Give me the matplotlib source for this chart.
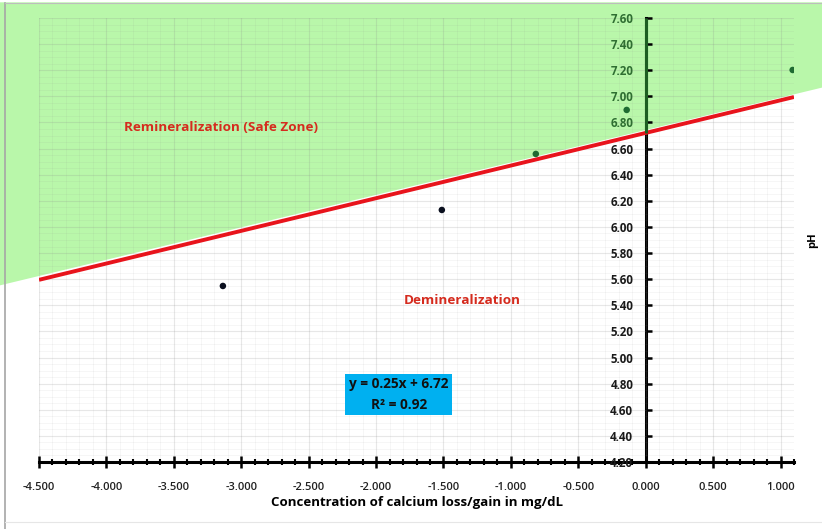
import matplotlib
matplotlib.use("Agg")
import matplotlib.pyplot as plt
from matplotlib.ticker import MultipleLocator, FormatStrFormatter
import numpy as np

# ---- data ----
calcium_change = [-3.136, -1.512, -0.815, -0.141, 1.090]
ph_values = [5.548, 6.130, 6.559, 6.896, 7.202]
slope = 0.25
intercept = 6.72
r_squared = 0.92
x_ticks = [-4.5, -4.0, -3.5, -3.0, -2.5, -2.0, -1.5, -1.0, -0.5, 0.0, 0.5, 1.0]
y_ticks = [4.2, 4.4, 4.6, 4.8, 5.0, 5.2, 5.4, 5.6, 5.8, 6.0, 6.2, 6.4, 6.6, 6.8, 7.0, 7.2, 7.4, 7.6]

FONT = "Open Sans"
GREEN_TXT = "#2f6e32"
RED = "#e8141c"
RED_TXT = "#d52b1e"
FILL = "#b9f7aa"

fig = plt.figure(figsize=(8.22, 5.29), dpi=100)
fig.patch.set_facecolor("white")
ax = fig.add_axes([39/822, 1-462/529, (794-39)/822, (462-18)/529])
xmin, xmax, ymin, ymax = -4.5, 1.1, 4.2, 7.6
ax.set_xlim(xmin, xmax)
ax.set_ylim(ymin, ymax)

# green safe zone polygon (extends beyond axes, to figure edges)
fx0, fx1, ftop = -4.79, 1.31, 7.72
poly_x = [fx0, fx1, fx1, fx0]
poly_y = [slope*fx0 + intercept + 0.03, slope*fx1 + intercept + 0.02, ftop, ftop]
ax.fill(poly_x, poly_y, color=FILL, zorder=0.5, clip_on=False, lw=0)

# grid
ax.xaxis.set_major_locator(MultipleLocator(0.5))
ax.xaxis.set_minor_locator(MultipleLocator(0.1))
ax.set_yticks(y_ticks)
ax.yaxis.set_minor_locator(MultipleLocator(0.05))
ax.grid(which="major", color="#8a8a8a", alpha=0.2, lw=0.8, zorder=1)
ax.grid(which="minor", color="#8a8a8a", alpha=0.09, lw=0.6, zorder=1)
ax.set_axisbelow(False)

# trend line
tx = np.array([xmin, xmax])
ax.plot(tx, slope*tx + intercept, color=RED, lw=2.8, zorder=4, solid_capstyle="butt")

# points
cols = ["#0a0f1e" if y < slope*x + intercept else "#1f6b32" for x, y in zip(calcium_change, ph_values)]
ax.scatter(calcium_change, ph_values, s=22, c=cols, zorder=5, lw=0)

# spines
for s in ["top", "right"]:
    ax.spines[s].set_visible(False)
ax.spines["left"].set_position(("data", 0))
ax.spines["left"].set_linewidth(2.2)
ax.spines["bottom"].set_linewidth(2.2)
ax.plot([0, 0], [intercept, ymax], color="#1d5e22", lw=2.2, zorder=6, clip_on=False, solid_capstyle="butt")

ax.set_xticks(x_ticks)
ax.xaxis.set_major_formatter(FormatStrFormatter("%.3f"))
ax.yaxis.set_major_formatter(FormatStrFormatter("%.2f"))
ax.tick_params(axis="x", which="major", direction="inout", length=9, width=1.8, pad=10,
               labelsize=8, colors="black")
ax.tick_params(axis="x", which="minor", direction="inout", length=4, width=1.5)
ax.tick_params(axis="y", which="major", direction="in", length=4, width=1.8, pad=9,
               labelsize=8.3)
ax.tick_params(axis="y", which="minor", length=0)
for lab in ax.get_xticklabels():
    lab.set_fontfamily(FONT); lab.set_fontweight("semibold"); lab.set_color("#222222")
for t, v in zip(ax.yaxis.get_major_ticks(), y_ticks):
    c = GREEN_TXT if v > intercept else "#1a1a1a"
    t.label1.set_color(c)
    t.label1.set_fontfamily(FONT)
    t.label1.set_fontweight("bold")
    t.tick1line.set_color("#1d5e22" if v > intercept else "black")

ax.set_xlabel("Concentration of calcium loss/gain in mg/dL", fontfamily=FONT,
              fontweight="bold", fontsize=9.5, labelpad=2)

# annotations
ax.text(-3.15, 6.758, "Remineralization (Safe Zone)", color=RED_TXT, fontfamily=FONT,
        fontweight="bold", fontsize=9.7, ha="center", va="center", zorder=7)
ax.text(-1.364, 5.433, "Demineralization", color=RED_TXT, fontfamily=FONT,
        fontweight="bold", fontsize=9.7, ha="center", va="center", zorder=7)
ax.text(-1.831, 4.717, f"y = {slope:.2f}x + {intercept:.2f}\nR\u00b2 = {r_squared:.2f}",
        color="#111111", fontfamily=FONT, fontweight="bold", fontsize=9.8, ha="center",
        va="center", linespacing=1.55, zorder=7,
        bbox=dict(boxstyle="square,pad=0.28", facecolor="#00b0f0", edgecolor="none"))

fig.text(813/822, 1-240/529, "pH", rotation=90, fontfamily=FONT, fontweight="bold",
         fontsize=8, ha="center", va="center")

# image frame
fig.add_artist(plt.Line2D([5/822, 5/822], [0, 1-3/529], color="#a6a6a6", lw=1.2))
fig.add_artist(plt.Line2D([5/822, 1], [1-3/529, 1-3/529], color="#bdbdbd", lw=0.8))
fig.add_artist(plt.Line2D([5/822, 1], [1-522/529, 1-522/529], color="#e6e6e6", lw=0.8))

fig.savefig("out.png", dpi=100)
